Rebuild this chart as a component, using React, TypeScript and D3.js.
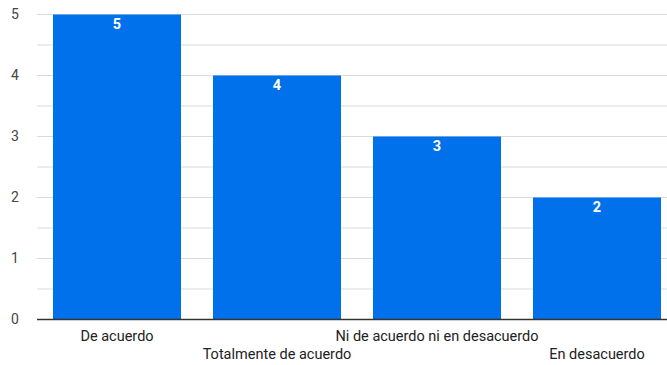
import React from "react";
import * as d3 from "d3";

const categories = [
  "De acuerdo",
  "Totalmente de acuerdo",
  "Ni de acuerdo ni en desacuerdo",
  "En desacuerdo",
];
const values = [5, 4, 3, 2];
const yTicks = [0, 1, 2, 3, 4, 5];
const gridTicks = [0.5, 1, 1.5, 2, 2.5, 3, 3.5, 4, 4.5, 5];

const W = 667;
const H = 365;
const FONT = "Roboto, 'Noto Sans', sans-serif";

export default function App() {
  const x = d3
    .scaleBand<string>()
    .domain(categories)
    .range([37, 677])
    .paddingInner(0.2)
    .paddingOuter(0.1);
  const y = d3.scaleLinear().domain([0, 5]).range([319.5, 14.5]);

  return (
    <svg
      width={W}
      height={H}
      style={{ position: "absolute", left: 0, top: 0, background: "#fff" }}
    >
      {gridTicks.map((t) => (
        <line
          key={"g" + t}
          x1={37}
          x2={W}
          y1={y(t)}
          y2={y(t)}
          stroke="#dadada"
          strokeWidth={1}
        />
      ))}
      {yTicks.map((t) => (
        <text
          key={"t" + t}
          x={15}
          y={y(t)}
          dy="0.35em"
          textAnchor="middle"
          fontFamily={FONT}
          fontSize={14}
          fill="#444"
        >
          {t}
        </text>
      ))}
      {categories.map((c, i) => (
        <g key={c}>
          <rect
            x={x(c)!}
            y={y(values[i])}
            width={x.bandwidth()}
            height={y(0) - y(values[i])}
            fill="#0070eb"
          />
          <text
            x={x(c)! + x.bandwidth() / 2}
            y={y(values[i]) + 9.5}
            dy="0.35em"
            textAnchor="middle"
            fontFamily={FONT}
            fontSize={14.5}
            fontWeight="bold"
            fill="#fff"
          >
            {values[i]}
          </text>
          <text
            x={x(c)! + x.bandwidth() / 2}
            y={i % 2 === 0 ? 336 : 354}
            dy="0.35em"
            textAnchor="middle"
            fontFamily={FONT}
            fontSize={14.5}
            fill="#222"
          >
            {c}
          </text>
        </g>
      ))}
      <line x1={37} x2={W} y1={y(0)} y2={y(0)} stroke="#333" strokeWidth={1.5} />
    </svg>
  );
}
